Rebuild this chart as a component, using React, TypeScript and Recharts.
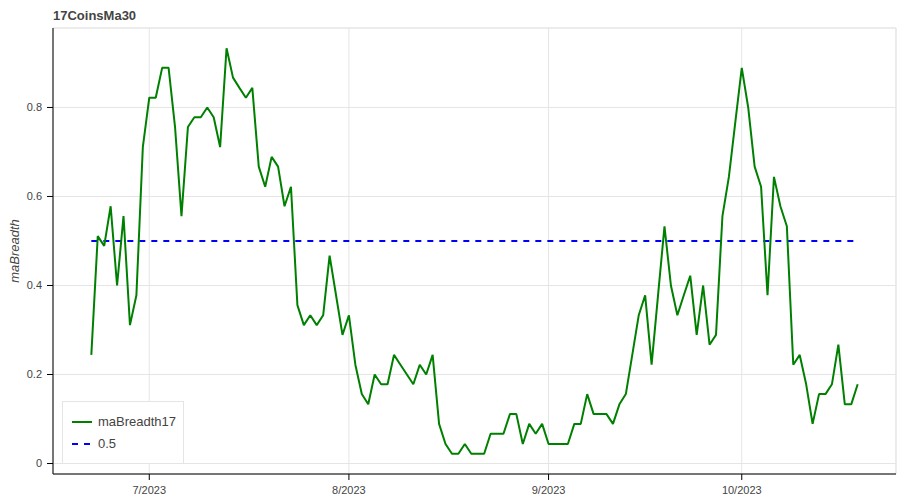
import React from 'react';
import { LineChart, Line, XAxis, YAxis, CartesianGrid, Legend, ReferenceArea } from 'recharts';

const FONT = '"Liberation Sans", Arial, Helvetica, sans-serif';
const DAY = 86400000;

const chartTitle = '17CoinsMa30';
const yAxisTitle = 'maBreadth';
const startDate = '2023-06-22';

// daily values, 2023-06-22 .. 2023-10-19
const maBreadth17 = [
  0.244, 0.511, 0.489, 0.578, 0.4, 0.556, 0.311, 0.378, 0.711,
  0.822, 0.822, 0.889, 0.889, 0.756, 0.556, 0.756, 0.778, 0.778, 0.8,
  0.778, 0.711, 0.933, 0.867, 0.844, 0.822, 0.844, 0.667, 0.622, 0.689,
  0.667, 0.578, 0.622, 0.356, 0.311, 0.333, 0.311, 0.333, 0.467, 0.378, 0.289,
  0.333, 0.222, 0.156, 0.133, 0.2, 0.178, 0.178, 0.244, 0.222, 0.2,
  0.178, 0.222, 0.2, 0.244, 0.089, 0.044, 0.022, 0.022, 0.044, 0.022,
  0.022, 0.022, 0.067, 0.067, 0.067, 0.111, 0.111, 0.044, 0.089, 0.067, 0.089,
  0.044, 0.044, 0.044, 0.044, 0.089, 0.089, 0.156, 0.111, 0.111, 0.111,
  0.089, 0.133, 0.156, 0.244, 0.333, 0.378, 0.222, 0.378, 0.533, 0.4,
  0.333, 0.378, 0.422, 0.289, 0.4, 0.267, 0.289, 0.556, 0.644, 0.767,
  0.889, 0.8, 0.667, 0.622, 0.378, 0.644, 0.578, 0.533, 0.222, 0.244,
  0.178, 0.089, 0.156, 0.156, 0.178, 0.267, 0.133, 0.133, 0.178,
];
const thresholdValue = 0.5;
const seriesNames = ['maBreadth17', '0.5'];
const seriesColors = ['#008000', '#0000ff'];

const xTickDates = ['2023-07-01', '2023-08-01', '2023-09-01', '2023-10-01'];
const xTickLabels = ['7/2023', '8/2023', '9/2023', '10/2023'];
const yTicks = [0, 0.2, 0.4, 0.6, 0.8];
const yMinorTicks = [
  0.04, 0.08, 0.12, 0.16, 0.24, 0.28, 0.32, 0.36, 0.44, 0.48,
  0.52, 0.56, 0.64, 0.68, 0.72, 0.76, 0.84, 0.88, 0.92, 0.96,
];

const t0 = Date.parse(startDate + 'T00:00:00Z');
const data = maBreadth17.map((v, i) => ({ t: t0 + i * DAY, value: v, ref: thresholdValue }));
const xTicks = xTickDates.map((d) => Date.parse(d + 'T00:00:00Z'));

// bokeh-like range padding: 10% of span, half each side
const pad = (lo: number, hi: number) => {
  const p = (hi - lo) * 0.05;
  return [lo - p, hi + p];
};
const xDomain = pad(data[0].t, data[data.length - 1].t);
const yDomain = pad(Math.min(...maBreadth17), Math.max(...maBreadth17));

const YLabel = (props: any) => {
  const vb = props.viewBox;
  const cy = vb ? vb.y + vb.height / 2 : 251;
  const x = 14;
  return (
    <text
      x={x}
      y={cy}
      transform={`rotate(-90, ${x}, ${cy})`}
      textAnchor="middle"
      dominantBaseline="central"
      fontStyle="italic"
      fontSize={13}
      fontFamily={FONT}
      fill="#444"
    >
      {yAxisTitle}
    </text>
  );
};

const LegendBox = () => (
  <div
    style={{
      position: 'relative',
      boxSizing: 'border-box',
      width: 122,
      height: 63,
      border: '1px solid #e5e5e5',
      background: '#fff',
      fontFamily: FONT,
      fontSize: 13,
      color: '#444',
    }}
  >
    {seriesNames.map((name, i) => (
      <div
        key={name}
        style={{ position: 'absolute', left: 9, top: 10 + i * 21.6, height: 20, display: 'flex', alignItems: 'center' }}
      >
        <svg width={20} height={20} style={{ display: 'block' }}>
          <line
            x1={0}
            y1={10}
            x2={20}
            y2={10}
            stroke={seriesColors[i]}
            strokeWidth={2}
            strokeDasharray={i === 1 ? '6 6' : undefined}
          />
        </svg>
        <span style={{ marginLeft: 6, lineHeight: '20px', whiteSpace: 'nowrap' }}>{name}</span>
      </div>
    ))}
  </div>
);

export default function App() {
  const tickStyle = { fill: '#444', fontSize: 11, fontFamily: FONT };
  return (
    <div style={{ position: 'absolute', left: 0, top: 0, width: 900, height: 500, background: '#fff' }}>
      <div
        style={{
          position: 'absolute',
          left: 53,
          top: 8,
          fontFamily: FONT,
          fontWeight: 'bold',
          fontSize: 13,
          color: '#444',
          zIndex: 2,
        }}
      >
        {chartTitle}
      </div>
      <LineChart width={900} height={500} data={data} margin={{ top: 28, right: 4, bottom: 0, left: 0 }}>
        <CartesianGrid stroke="#e5e5e5" />
        <ReferenceArea
          x1={xDomain[0]}
          x2={xDomain[1]}
          y1={yDomain[0]}
          y2={yDomain[1]}
          fill="none"
          stroke="#e5e5e5"
          ifOverflow="visible"
        />
        <XAxis
          type="number"
          dataKey="t"
          domain={xDomain}
          ticks={xTicks}
          allowDataOverflow
          interval={0}
          height={26}
          tickSize={6}
          tickMargin={6}
          tick={tickStyle}
          axisLine={{ stroke: '#000' }}
          tickLine={{ stroke: '#000' }}
          tickFormatter={(v: number) => xTickLabels[xTicks.indexOf(v)] ?? ''}
        />
        <YAxis
          type="number"
          domain={yDomain}
          ticks={yTicks}
          allowDataOverflow
          interval={0}
          width={53}
          tickSize={6}
          tickMargin={5}
          tick={tickStyle}
          axisLine={{ stroke: '#000' }}
          tickLine={{ stroke: '#000' }}
          tickFormatter={(v: number) => String(v)}
          label={<YLabel />}
        />
        <YAxis
          yAxisId="minor"
          type="number"
          domain={yDomain}
          ticks={yMinorTicks}
          allowDataOverflow
          interval={0}
          width={0}
          tickSize={4}
          tick={false}
          axisLine={false}
          tickLine={{ stroke: '#000' }}
        />
        <Line
          type="linear"
          dataKey="ref"
          name={seriesNames[1]}
          stroke={seriesColors[1]}
          strokeWidth={2}
          strokeDasharray="6 6"
          dot={false}
          activeDot={false}
          isAnimationActive={false}
        />
        <Line
          type="linear"
          dataKey="value"
          name={seriesNames[0]}
          stroke={seriesColors[0]}
          strokeWidth={2}
          strokeLinejoin="bevel"
          dot={false}
          activeDot={false}
          isAnimationActive={false}
        />
        <Legend
          layout="vertical"
          align="center"
          verticalAlign="middle"
          content={<LegendBox />}
          wrapperStyle={{ left: 62, top: 401, width: 122 }}
        />
      </LineChart>
    </div>
  );
}
